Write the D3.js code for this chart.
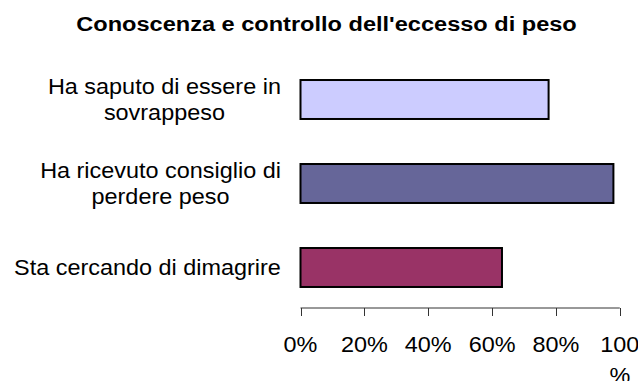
<!DOCTYPE html>
<html>
<head>
<meta charset="utf-8">
<script src="https://cdn.jsdelivr.net/npm/d3@7"></script>
<style>
  html, body { margin: 0; padding: 0; background: #fff; }
  svg { display: block; }
  text { font-family: "Liberation Sans", Arial, sans-serif; fill: #000; }
</style>
</head>
<body>
<svg id="chart" width="638" height="381"></svg>
<script>
// Chart data
const title = "Conoscenza e controllo dell'eccesso di peso";
const categories = [
  ["Ha saputo di essere in", "sovrappeso"],
  ["Ha ricevuto consiglio di", "perdere peso"],
  ["Sta cercando di dimagrire"]
];
const values = [77.7, 98.0, 63.1];
const barColors = ["#CCCCFF", "#666699", "#993366"];
const tickValues = [0, 20, 40, 60, 80, 100];
const tickLabels = [["0%"], ["20%"], ["40%"], ["60%"], ["80%"], ["100", "%"]];

const svg = d3.select("#chart");
const W = 638, H = 381;
const stretch = 1.09;      // horizontal stretch of the text
const axisY = 308;

const x = d3.scaleLinear().domain([0, 100]).range([300.5, 619.8]);
const keys = categories.map(c => c.join(" "));
const y = d3.scaleBand().domain(keys).range([57.5, 309.5])
  .paddingInner(0.536).paddingOuter(0.268);

// Title
svg.append("text")
  .attr("transform", `translate(326.5,30.5) scale(1.15,1)`)
  .attr("text-anchor", "middle")
  .attr("font-size", "20.5px")
  .attr("font-weight", "bold")
  .text(title);

// Bars
svg.append("g").selectAll("rect")
  .data(values)
  .join("rect")
  .attr("x", x(0))
  .attr("y", (d, i) => y(keys[i]))
  .attr("width", d => x(d) - x(0))
  .attr("height", y.bandwidth())
  .attr("fill", (d, i) => barColors[i])
  .attr("stroke", "#000")
  .attr("stroke-width", 2);

// Category labels: lines centred inside a block right-aligned to the plot
const labelRight = 281;
const fs = 21.5, lineH = 26;
categories.forEach((lines, i) => {
  const cy = y(keys[i]) + y.bandwidth() / 2;
  const g = svg.append("g");
  const texts = lines.map(l => g.append("text")
    .attr("font-size", fs + "px")
    .attr("text-anchor", "middle")
    .text(l));
  const widths = texts.map(t => t.node().getComputedTextLength() * stretch);
  const blockW = d3.max(widths);
  const cx = labelRight - blockW / 2;
  texts.forEach((t, j) => {
    const by = cy + fs * 0.33 + (j - (lines.length - 1) / 2) * lineH;
    t.attr("transform", `translate(${cx},${by}) scale(${stretch},1)`);
  });
});

// X axis
const axis = svg.append("g").attr("transform", `translate(0,${axisY})`);
axis.append("line")
  .attr("x1", x(0)).attr("x2", x(100))
  .attr("y1", 0).attr("y2", 0)
  .attr("stroke", "#333").attr("stroke-width", 1);
axis.selectAll("line.tick")
  .data(tickValues)
  .join("line")
  .attr("class", "tick")
  .attr("x1", d => Math.round(x(d)) + 0.5).attr("x2", d => Math.round(x(d)) + 0.5)
  .attr("y1", 0).attr("y2", 8)
  .attr("stroke", "#333").attr("stroke-width", 1);

tickValues.forEach((v, i) => {
  tickLabels[i].forEach((l, j) => {
    axis.append("text")
      .attr("transform", `translate(${x(v)},${43.7 + j * 31}) scale(${stretch},1)`)
      .attr("text-anchor", "middle")
      .attr("font-size", fs + "px")
      .text(l);
  });
});
</script>
</body>
</html>
